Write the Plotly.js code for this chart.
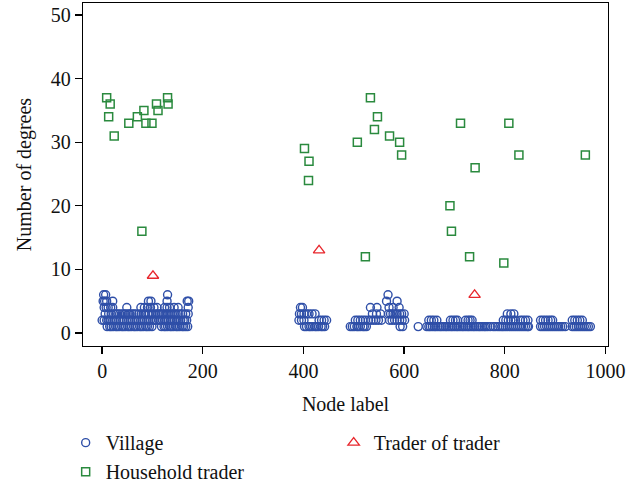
<!DOCTYPE html>
<html>
<head>
<meta charset="utf-8">
<script src="https://cdn.plot.ly/plotly-3.0.1.min.js"></script>
<style>html,body{margin:0;padding:0;background:#fff;}#chart{width:639px;height:483px;}</style>
</head>
<body>
<div id="chart"></div>
<script>
// Village nodes: x positions (node label) for each degree level
const villageDeg6 = [3, 7, 130, 568];
const villageDeg5 = [2, 5, 9, 21, 92, 97, 129, 169, 172, 565, 586];
const villageDeg4 = [4, 8, 12, 17, 21, 49, 77, 84, 90, 96, 103, 109, 124, 129, 134, 143, 151, 171,
  394, 398, 533, 546, 570, 578, 590];
const villageDeg3 = [6, 13, 18, 23, 27, 31, 35, 40, 44, 47, 52, 55, 59, 63, 67, 73, 78, 83, 86, 91, 94, 99, 102, 107, 111, 114, 119, 122, 127, 131, 135, 139, 143, 147, 151, 156, 160, 166, 171,
  392, 396, 401, 406, 411, 417, 423, 537, 545, 553, 569, 573, 578, 582, 586, 591, 595, 600,
  805, 812, 818];
const villageDeg2 = [0, 4, 9, 12, 16, 21, 24, 28, 33, 36, 41, 44, 48, 53, 56, 60, 65, 68, 72, 77, 80, 84, 89, 92, 96, 101, 104, 108, 113, 116, 120, 125, 128, 132, 137, 140, 144, 149, 152, 156, 161, 164, 168,
  391, 396, 401, 431, 436, 441, 446,
  503, 508, 513, 518, 523, 529, 534, 539, 544, 549, 555, 571, 576, 581, 586, 591, 596, 601,
  649, 654, 659, 665, 692, 697, 702, 706, 722, 727, 731, 735,
  797, 802, 807, 812, 817, 821, 831, 836, 841, 846, 871, 876, 881, 886, 891, 895, 934, 939, 944, 949, 954];
const villageDeg1 = [10, 15, 18, 22, 27, 30, 34, 39, 42, 46, 51, 54, 58, 63, 66, 70, 75, 78, 82, 87, 90, 94, 99, 118, 123, 126, 130, 135, 138, 142, 147, 150, 154, 159, 162, 166, 170,
  402, 406, 411, 414, 418, 423, 426, 430, 435, 438, 442,
  493, 497, 501, 506, 509, 513, 518, 521, 525, 592, 597,
  628, 645, 649, 652, 656, 660, 663, 667, 671, 674, 678, 682, 685, 689, 693, 696, 700, 704, 707, 711, 715, 718, 722, 726, 729, 733, 737, 740, 744, 748, 751, 755, 759, 762, 766, 771,
  777, 781, 786, 790, 794,
  797, 801, 805, 809, 813, 817, 821, 825, 829, 833, 837, 841, 845, 847,
  871, 875, 879, 883, 887, 891, 895, 899, 903, 907, 911, 915, 920,
  934, 938, 942, 946, 950, 954, 958, 962, 966, 970];

// Household traders
const householdX = [9, 16, 13, 24, 53, 70, 83, 87, 99, 108, 111, 130, 131, 79,
  402, 411, 410, 507, 533, 547, 541, 571, 591, 595, 523,
  712, 808, 828, 960, 741, 691, 694, 730, 798];
const householdY = [37, 36, 34, 31, 33, 34, 35, 33, 33, 36, 35, 37, 36, 16,
  29, 27, 24, 30, 37, 34, 32, 31, 30, 28, 12,
  33, 33, 28, 28, 26, 20, 16, 12, 11];

// Trader of trader
const traderX = [101, 431, 740];
const traderY = [9, 13, 6];

const xTicks = [0, 200, 400, 600, 800, 1000];
const yTicks = [0, 10, 20, 30, 40, 50];

const levels = [[villageDeg1, 1], [villageDeg2, 2], [villageDeg3, 3], [villageDeg4, 4], [villageDeg5, 5], [villageDeg6, 6]];
const villageX = [], villageY = [];
levels.forEach(([xs, d]) => xs.forEach(x => { villageX.push(x); villageY.push(d); }));

const FONT = 'Liberation Serif, Times New Roman, serif';
const FS = 20;

const traces = [
  {x: villageX, y: villageY, type: 'scatter', mode: 'markers', name: 'Village',
   marker: {symbol: 'circle-open', size: 8, color: '#2f4fa8', line: {width: 1.4, color: '#2f4fa8'}}},
  {x: traderX, y: traderY, type: 'scatter', mode: 'markers', name: 'Trader of trader',
   marker: {symbol: 'triangle-up-open', size: 10, color: '#e8262c', line: {width: 1.3, color: '#e8262c'}}},
  {x: householdX, y: householdY, type: 'scatter', mode: 'markers', name: 'Household trader',
   marker: {symbol: 'square-open', size: 8, color: '#2a8a3e', line: {width: 1.5, color: '#2a8a3e'}}}
];

const layout = {
  width: 639, height: 483,
  margin: {l: 83, r: 31, t: 3, b: 137, autoexpand: false},
  paper_bgcolor: '#fff', plot_bgcolor: '#fff',
  font: {family: FONT, size: FS, color: '#111'},
  showlegend: true,
  xaxis: {range: [-38, 1005], tickvals: xTicks, ticks: 'outside', ticklen: 7, tickwidth: 1.3, tickcolor: '#000',
    showline: true, mirror: true, linecolor: '#000', linewidth: 1.3, showgrid: false, zeroline: false,
    tickfont: {family: FONT, size: FS, color: '#111'},
    title: {text: 'Node label', font: {family: FONT, size: FS, color: '#111'}, standoff: 15}},
  yaxis: {range: [-2.05, 51.9], tickvals: yTicks, ticks: 'outside', ticklen: 7, tickwidth: 1.3, tickcolor: '#000',
    showline: true, mirror: true, linecolor: '#000', linewidth: 1.3, showgrid: false, zeroline: false,
    tickfont: {family: FONT, size: FS, color: '#111'},
    title: {text: 'Number of degrees', font: {family: FONT, size: FS, color: '#111'}, standoff: 13}},
  legend: {orientation: 'h', x: -0.033, xanchor: 'left', y: -0.225, yanchor: 'top',
    entrywidth: 223, entrywidthmode: 'pixels', traceorder: 'normal',
    font: {family: FONT, size: FS, color: '#111'}, bgcolor: 'rgba(0,0,0,0)', itemsizing: 'trace'}
};

Plotly.newPlot('chart', traces, layout, {displayModeBar: false, staticPlot: true});
</script>
</body>
</html>
